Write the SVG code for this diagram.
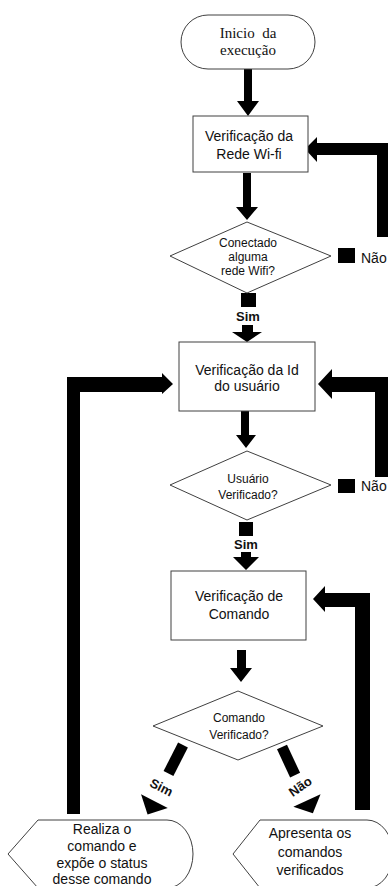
<svg xmlns="http://www.w3.org/2000/svg" width="388" height="886" viewBox="0 0 388 886">
<style>
.shape{fill:#fff;stroke:#404040;stroke-width:1}
.bar{fill:#000}
.t{font-family:"Liberation Sans",Arial,sans-serif;fill:#111;text-anchor:middle}
.serif{font-family:"Liberation Serif","Times New Roman",serif;fill:#111;text-anchor:middle;font-size:15px}
.box{font-size:14px}
.dia{font-size:12px}
.lab{font-size:13px;font-weight:bold}
.nao{font-family:"Liberation Sans",Arial,sans-serif;fill:#111;font-size:14px}
.bot{font-size:14px}
</style>
<rect width="388" height="886" fill="#fff"/>
<g id="connectors">
  <polygon class="bar" points="244,69 252,69 252,101 259,101 248,116 237,101 244,101"/>
  <polygon class="bar" points="243,173 251,173 251,207 258,207 247,220 236,207 243,207"/>
  <rect class="bar" x="241" y="293" width="15" height="14"/>
  <text class="t lab" x="248" y="321">Sim</text>
  <polygon class="bar" points="242,325 253,325 253,332 262,332 247,342 232,332 242,332"/>
  <polygon class="bar" points="241,411 249,411 249,435 256,435 246,448 236,435 241,435"/>
  <rect class="bar" x="239" y="522" width="14" height="14"/>
  <text class="t lab" x="246" y="549">Sim</text>
  <polygon class="bar" points="241,552 251,552 251,557 259,557 246,570 233,557 241,557"/>
  <polygon class="bar" points="237,650 246,650 246,668 252,668 241,682 230,668 237,668"/>
  <!-- right loop 1 -->
  <rect class="bar" x="338" y="248" width="17" height="15"/>
  <text class="nao" x="361" y="263">Não</text>
  <polygon class="bar" points="388,237 377,237 377,155 317,155 317,162 305,149 317,137 317,143 388,143"/>
  <!-- right loop 2 -->
  <rect class="bar" x="338" y="479" width="17" height="14"/>
  <text class="nao" x="361" y="491">Não</text>
  <polygon class="bar" points="388,477 375,477 375,392 332,392 332,399 318,384 332,369 332,377 388,377"/>
  <!-- right loop 3 -->
  <polygon class="bar" points="370,810 355,810 355,607 325,607 325,612 313,599 325,586 325,593 370,593"/>
  <!-- left loop -->
  <polygon class="bar" points="67,814 80,814 80,392 162,392 162,394 173,384 162,373 162,377 67,377"/>
  <!-- diagonal Sim -->
  <g transform="translate(183,745) rotate(27)">
    <rect class="bar" x="-5.5" y="0" width="11" height="32"/>
    <text class="t lab" x="0" y="52">Sim</text>
    <polygon class="bar" points="-15,63 15,63 0,78"/>
  </g>
  <!-- diagonal Não -->
  <g transform="translate(282,747) rotate(-25)">
    <rect class="bar" x="-5.5" y="0" width="11" height="31"/>
    <text class="t lab" x="0" y="48" transform="rotate(-10 0 44)">Não</text>
    <polygon class="bar" points="-15,59 15,59 0,73"/>
  </g>
</g>
<g id="start">
  <rect class="shape" x="181" y="15" width="134" height="54" rx="27" ry="27"/>
  <text class="serif" x="248" y="38" xml:space="preserve">Inicio  da</text>
  <text class="serif" x="248" y="55">execução</text>
</g>
<g id="wifi">
  <rect class="shape" x="193" y="116" width="115" height="56"/>
  <text class="t box" x="249" y="141">Verificação da</text>
  <text class="t box" x="249" y="159">Rede Wi-fi</text>
</g>
<g id="d-wifi">
  <polygon class="shape" points="247,222 331,256 247,293 170,256"/>
  <text class="t dia" x="248" y="247">Conectado</text>
  <text class="t dia" x="248" y="261">alguma</text>
  <text class="t dia" x="248" y="275">rede Wifi?</text>
</g>
<g id="user">
  <rect class="shape" x="179" y="342" width="136" height="69"/>
  <text class="t box" x="247" y="375">Verificação da Id</text>
  <text class="t box" x="247" y="391">do usuário</text>
</g>
<g id="d-user">
  <polygon class="shape" points="247,451 331,485 247,520 170,485"/>
  <text class="t dia" x="248" y="483">Usuário</text>
  <text class="t dia" x="248" y="499">Verificado?</text>
</g>
<g id="cmd">
  <rect class="shape" x="171" y="571" width="135" height="69"/>
  <text class="t box" x="239" y="601">Verificação de</text>
  <text class="t box" x="239" y="619">Comando</text>
</g>
<g id="d-cmd">
  <polygon class="shape" points="238,691 323,726 238,760 153,726"/>
  <text class="t dia" x="239" y="722">Comando</text>
  <text class="t dia" x="239" y="739">Verificado?</text>
</g>
<g id="exec">
  <path class="shape" d="M38,820 L167,820 A26,34 0 0 1 167,888 L38,888 L8,854 Z"/>
  <text class="t bot" x="102" y="834">Realiza o</text>
  <text class="t bot" x="102" y="851">comando e</text>
  <text class="t bot" x="102" y="868">expõe o status</text>
  <text class="t bot" x="102" y="884">desse comando</text>
</g>
<g id="show">
  <path class="shape" d="M260,820 L367,820 A26,34 0 0 1 367,888 L260,888 L233,854 Z"/>
  <text class="t bot" x="310" y="838">Apresenta os</text>
  <text class="t bot" x="310" y="857">comandos</text>
  <text class="t bot" x="310" y="875">verificados</text>
</g>
</svg>
